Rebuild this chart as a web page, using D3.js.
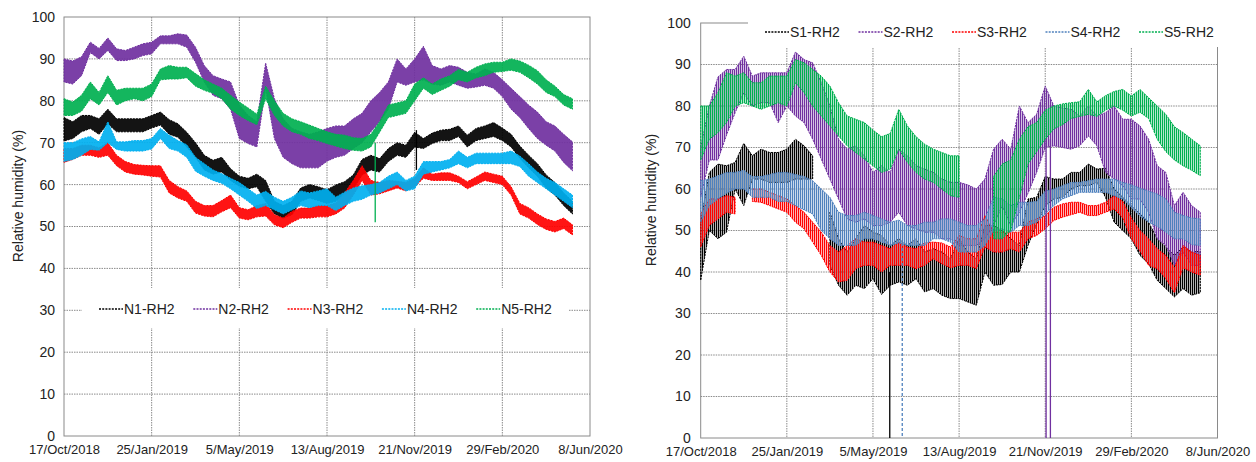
<!DOCTYPE html>
<html>
<head>
<meta charset="utf-8">
<script src="https://cdn.jsdelivr.net/npm/d3@7"></script>
<style>
    body { margin: 0; background: #fff; }
    svg text { font-family: "Liberation Sans", Arial, sans-serif; fill: #222; }
</style>
</head>
<body>
<svg id="chart" width="1256" height="462"></svg>
<script>
// ============================================
// Relative humidity RH2, north (N) and south (S) sensors
// ============================================

// x axis: tick dates (every 100 days) and sample days counted from the first tick
const xTickDates = ['2018-10-17', '2019-01-25', '2019-05-05', '2019-08-13', '2019-11-21', '2020-02-29', '2020-06-08'];
const yTicks = [0, 10, 20, 30, 40, 50, 60, 70, 80, 90, 100];
const sampleDays = [0, 10, 20, 30, 40, 50, 60, 70, 80, 90, 100, 110, 120, 130, 140, 150, 160, 170, 180, 190,
    200, 210, 220, 230, 240, 250, 260, 270, 280, 290, 300, 310, 320, 330, 340, 350, 360, 370, 380, 390,
    400, 410, 420, 430, 440, 450, 460, 470, 480, 490, 500, 510, 520, 530, 540, 550, 560, 570, 580];

// Left chart: daily low / high envelope of each series
const northNames = ['N1-RH2', 'N2-RH2', 'N3-RH2', 'N4-RH2', 'N5-RH2'];
const n1Lo = [70.4, 71, 72.6, 73.4, 72, 74.5, 72.6, 72.6, 72.6, 72.6, 73.5, 74.2, 72, 71.3, 69, 66.5, 63.5, 62.5, 63, 61, 59.6, 59, 59.5, 56, 53, 52, 52.8, 56, 56.8, 56.2, 55.5, 56, 57.5, 59, 62.3, 63.5, 63, 65.5, 67, 66.5, 69, 68.6, 69.8, 70.5, 70.5, 71.5, 69, 70.5, 71, 71.5, 70.5, 69, 66.3, 64, 62, 59.2, 57.5, 55, 53];
const n1Hi = [76, 75, 76.5, 76.5, 75.7, 78, 75.7, 75.7, 75.7, 75.7, 76.5, 77.3, 75.5, 74.5, 72.5, 70, 67, 65.8, 66.5, 63.8, 62, 61.5, 62.5, 61, 56, 55, 56, 59.2, 60, 59.5, 58.8, 59.9, 60.7, 62.3, 66, 67, 66.2, 68.6, 70, 69.4, 72.5, 71, 72.3, 73, 73.2, 74, 71.8, 73.4, 74, 74.8, 73.5, 72, 69.2, 67, 65, 62.3, 60.5, 58, 56];
const n2Lo = [84.5, 84, 86, 91.5, 90, 92, 89.6, 89.6, 90, 90.8, 91.2, 93.6, 93.6, 93.6, 92.8, 89.2, 84.5, 81.3, 80.5, 78, 71, 69.8, 69, 83, 71, 66.5, 65, 64, 64, 64, 65.6, 66.5, 67, 68.6, 70, 72.6, 75, 78, 84.5, 83.7, 84.5, 85, 84, 83.7, 84.5, 83.7, 83, 83.3, 83.7, 83, 81, 78, 76, 73.4, 71, 69.4, 68, 65.3, 63.3];
const n2Hi = [90, 89.5, 90.5, 94, 92.5, 95, 92.4, 92, 92.8, 93.6, 94, 95.5, 95.5, 96, 95.7, 92.8, 88.4, 86, 85.2, 84.5, 79, 76.5, 75, 89, 80.5, 75.7, 73.4, 72.6, 72, 72.6, 73.4, 74, 74, 75.7, 77, 80, 82, 84.5, 90, 87.6, 90, 93, 88.4, 87.6, 88.4, 88, 86.8, 86.4, 87.6, 86.8, 85, 83, 81, 79, 77.3, 75, 74, 72, 70.2];
const n3Lo = [65.3, 66, 67, 67, 66.5, 67, 64.5, 63, 62.5, 62.3, 62, 61.8, 58, 56.8, 56, 53.2, 52.5, 52.3, 53.5, 54.5, 52, 51.6, 52.3, 52.5, 50.4, 49.7, 51, 52, 52, 52.3, 52.3, 53, 54.4, 57.5, 61, 57.5, 57.8, 58.5, 59.2, 58.5, 59.5, 61.5, 61, 61, 61, 60.5, 59, 60, 61, 60.5, 60, 57.5, 53, 52, 50.5, 49.3, 48.7, 49.5, 48];
const n3Hi = [68.6, 68.6, 69.4, 69.4, 68.8, 70, 67, 65.5, 64.8, 64.6, 64.5, 64.5, 61, 59.5, 58.5, 56, 55, 55, 56.2, 57.5, 54.5, 54, 55, 55.5, 52.8, 52, 53.6, 54.4, 54.4, 55, 55, 55.6, 58, 61, 64.5, 61, 60.5, 61, 60.8, 60.5, 61.5, 64, 62.5, 62.8, 62.8, 62, 60.7, 61.8, 63, 62.5, 62, 59.5, 55.5, 54.5, 53, 51.8, 51.2, 52, 50.4];
const n4Lo = [65.5, 66, 67, 68.4, 68.2, 70, 68.4, 68, 68, 68, 68.5, 71, 68.6, 68, 66.5, 63.2, 62, 61, 60.3, 59, 57.5, 56, 54.3, 55, 54, 53, 54, 55, 54.5, 55, 55, 53.8, 55, 56, 56.5, 57.5, 58, 59, 60, 58.5, 59, 62.5, 63, 63.5, 64, 65, 64, 65, 65, 65, 65, 65, 64.3, 62, 60.5, 59, 57.5, 56, 54.5];
const n4Hi = [70, 70, 70.9, 71.5, 70.2, 75, 70.2, 70.2, 70.5, 70.5, 71, 73.4, 71.8, 70.5, 69.5, 66.5, 65, 63.5, 62.6, 61.5, 60.5, 59, 57.5, 58.4, 57, 56, 57, 58.5, 58, 58.5, 59, 57, 58.2, 59.2, 59.7, 60, 60.5, 62, 63, 61, 62, 65.5, 65.5, 65.5, 66, 68, 66.5, 67.5, 67.5, 67.5, 67.5, 68, 66.8, 65, 63, 61.5, 60.5, 59, 57.5];
const n5Lo = [76.5, 76.5, 77.5, 80.5, 79, 82, 79, 80, 80.5, 80, 81, 85, 85.2, 85.2, 85.5, 83.5, 82.5, 81.8, 80.5, 78, 76.5, 75.3, 74.3, 80.5, 76.5, 74, 72.6, 72, 71, 70.5, 69.8, 69.2, 68.6, 68.2, 68, 69, 72.5, 76, 76.5, 77, 80, 83, 81.5, 82.5, 83.5, 85, 84.5, 85.5, 86, 86.8, 87, 87.3, 86.8, 85.5, 84, 82, 81, 79, 78];
const n5Hi = [80.5, 79.7, 81.3, 84.5, 82, 86, 82.5, 83, 83, 83, 84, 87.6, 88.4, 88, 88, 86.5, 85, 84, 83, 81.3, 79.7, 78.3, 76.8, 83.5, 80, 77, 75.7, 75, 74.2, 73.4, 72.6, 72, 71.8, 71.2, 71, 72, 75, 79, 79.5, 80, 84, 85.5, 84, 85.2, 86, 87.5, 86.8, 88, 88.8, 89.2, 89.2, 90, 89.5, 88.5, 87.2, 85, 83.5, 81.5, 80.5];
// single readings that fall away from the series: [series, day, from, to]
const northDrops = [['N5-RH2', 355, 70, 51], ['N1-RH2', 402, 73, 63.5]];

// Right chart
const southNames = ['S1-RH2', 'S2-RH2', 'S3-RH2', 'S4-RH2', 'S5-RH2'];
const s1Lo = [38, 50, 48, 49.6, 60, 56, 62.4, 62.4, 61.6, 61.6, 61.6, 62.4, 62.4, 62.4, null, 41.6, 36.8, 34.4, 36.8, 36, 38.4, 34.6, 36.8, 37.6, 36.8, 38.4, 35.2, 36, 34.4, 33.6, 33.6, 32.8, 32, 40, 36.8, 37, 40, 40, 46.4, 51.5, 56, 57.6, 58, 60, 60.8, 60.8, 61.6, 58, 52, 50, 48, 44, 42, 38, 36, 34, 36, 34.4, 35];
const s1Hi = [52, 64, 66, 65.6, 66.4, 71, 68, 69.6, 68.8, 68.8, 69.6, 72, 70.4, 68, null, 54.4, 48, 44.8, 48, 51.2, 49.6, 48.8, 46.4, 48, 46.4, 48, 44.8, 45.6, 44.8, 43.2, 48, 44.8, 43.2, 51.2, 51.2, 50, 48, 46.4, 57.6, 58, 63, 62.4, 62.4, 64, 64, 66, 64.8, 65, 60, 58, 56, 54, 52, 48, 46, 44, 46, 44.8, 45];
const s2Lo = [58, 67, 67, 73, 78.4, 83.2, 80, 80.8, 80.8, 76, 80, 77.6, 76, 72, 67.2, 62.4, 57.6, 52.8, 52, 52.8, 51.2, 51.2, 52, 54.4, 51.2, 50.4, 49.6, 49.6, 48, 48, 46.4, 46.4, 46.4, 48, 51.2, 56, 51.2, 54.4, 59, 64, 70, 70.4, 70, 69.6, 70.4, 72.8, 70.4, 64, 62.4, 60.8, 57.6, 57.6, 54.4, 48, 46.4, 41.6, 44.8, 41.6, 41.6];
const s2Hi = [70, 80, 87, 88.8, 88.8, 92, 87.2, 88, 88, 88, 88, 93, 91.2, 90.4, 85.6, 80, 72, 69.6, 70.4, 68, 64, 65.6, 64, 69.6, 68, 65.6, 64.8, 64, 62.4, 61.6, 61.6, 61, 60, 62.4, 69.6, 72, 69.6, 80, 76, 78, 84.8, 80, 79.5, 79.2, 77.6, 80, 77.6, 78.4, 80, 76.8, 76.8, 75.2, 72, 65.6, 64, 56, 59.2, 56, 54.4];
const s3Lo = [46, 51.2, 52.8, 54.4, 54, null, 57, 56.8, 56, 55.2, 54.4, 52, 50.4, 47.2, 44, 40, 37.6, 38, 40.8, 41.6, 41.6, 40, 41.6, 41.6, 41.6, 40.8, 41.6, 43.2, 42, 41, 41.6, 41.6, 40.8, 46, 44.8, 44.8, 45.6, 44.8, 48, 48.8, 50.4, 52.4, 53.2, 53.8, 54.4, 53.6, 53.6, 54.4, 55.2, 53, 48, 45, 41.6, 40.8, 38.4, 35, 41, 40, 39.2];
const s3Hi = [54, 57.6, 57.6, 58.4, 58, null, 60, 60, 59.2, 58.4, 57.6, 56, 54.4, 52, 49.6, 46.4, 44.8, 46.4, 48, 47.2, 47.2, 46.4, 45.6, 47.2, 46, 45.6, 47, 47.2, 47, 46, 48.8, 48, 48, 53.6, 49.6, 49.6, 49.6, 49.6, 52, 52.8, 53.6, 55.6, 56.4, 56.8, 56.8, 56, 56, 56.8, 58.4, 57, 53, 50, 48, 45.6, 44, 41, 46.4, 44.8, 44];
const s4Lo = [52, 56, 57.6, 59, 60, 60, 58, 58, 58, 57, 57, 56, 55, 54, 50, 48, 46.4, 46.4, 46.4, 48, 48, 47.2, 46.4, 47, 46.4, 46.4, 46.4, 48, 48, 47.2, 44.8, 44.8, 44.8, 46.4, 50, 50.4, 49.6, 51.2, 51.2, 52, 54, 56, 57.6, 58.4, 59.2, 59.2, 59.2, 59.2, 58.4, 57.6, 55.5, 53.5, 52, 51, 49.6, 48, 48, 46.6, 46.4];
const s4Hi = [62, 62.4, 63.2, 64, 64, 64.5, 63, 63, 63.5, 64, 64, 63.5, 63, 62, 60, 58, 54.4, 53.6, 53.6, 54.4, 53.6, 52.8, 52, 52.5, 51.2, 51.2, 52, 52, 52.8, 52.8, 52, 51.2, 51.2, 52.8, 58, 57.6, 56, 56.8, 56.8, 57, 59.5, 60, 60.8, 61.6, 61.6, 62, 62.4, 62.4, 62.4, 61.6, 61, 60.2, 59.5, 58.8, 57.6, 54.4, 53.6, 53, 52.8];
const s5Lo = [67, 72, 73.6, 76, 80, 80.8, 80, 79.2, 80, 80.8, 80, 85.6, 83.2, 80, 77.6, 75.2, 72.8, 70.4, 68.8, 67.2, 65.6, 64, 64.8, 69.6, 66.4, 64, 62.4, 61.6, 60, 58.4, 58, null, null, null, 48, 48, 50, 58, 66, 69, 72, 74.5, 75.5, 77, 77.5, 78, 77.5, 79, 80, 79, 77.6, 78.5, 77, 72, 69, 67, 65.6, 64.5, 63.2];
const s5Hi = [80, 80, 83.2, 88, 87.2, 88, 85.6, 85.6, 87.2, 87.2, 87.2, 91.2, 90.4, 88.8, 87.2, 84.8, 80.8, 77.6, 76.8, 76, 74.2, 72.6, 73.4, 79.2, 75.2, 72.6, 70.8, 69.6, 68.8, 68, 68, null, null, null, 63, 66, 67, 72, 75, 76, 79, 80, 80.5, 80.8, 81, 84, 81, 82.5, 83.5, 84, 82.4, 84, 82, 80, 78, 75, 73.6, 72, 70.4];
const southDrops = [['S1-RH2', 219.5, 40, 0], ['S4-RH2', 234, 47, 0], ['S2-RH2', 401, 72, 0], ['S2-RH2', 406, 72, 0]];

const parseDate = d3.utcParse('%Y-%m-%d');
const fmtDate = d3.utcFormat('%-d/%b/%Y');
const startDate = parseDate(xTickDates[0]);

const svg = d3.select('#chart');
const defs = svg.append('defs');

// vertical stripe fill, gives the noisy hourly look of the south sensors
function stripe(id, color) {
    const pat = defs.append('pattern')
        .attr('id', id)
        .attr('patternUnits', 'userSpaceOnUse')
        .attr('width', 2).attr('height', 6);
    pat.append('rect')
        .attr('width', 1.3).attr('height', 6)
        .style('fill', color);
    return `url(#${id})`;
}

function drawPanel(p) {
    const x = d3.scaleUtc()
        .domain([startDate, parseDate(xTickDates[xTickDates.length - 1])])
        .range([p.left, p.right]);
    const y = d3.scaleLinear().domain([0, 100]).range([p.bottom, p.top]);
    const at = day => x(d3.utcHour.offset(startDate, Math.round(day * 24)));

    const g = svg.append('g');

    // Gridlines
    g.selectAll('.hgrid')
        .data(yTicks.slice(1, -1))
        .enter()
        .append('line')
        .attr('x1', p.left).attr('x2', p.right)
        .attr('y1', d => y(d)).attr('y2', d => y(d))
        .style('stroke', '#8a8a8a')
        .style('stroke-dasharray', '1.5,1');
    g.selectAll('.vgrid')
        .data(xTickDates.slice(1, -1).map(parseDate))
        .enter()
        .append('line')
        .attr('x1', d => x(d)).attr('x2', d => x(d))
        .attr('y1', p.top).attr('y2', p.bottom)
        .style('stroke', '#8a8a8a')
        .style('stroke-dasharray', '1.5,1');

    // Plot border
    g.append('rect')
        .attr('x', p.left).attr('y', p.top)
        .attr('width', p.right - p.left).attr('height', p.bottom - p.top)
        .style('fill', 'none')
        .style('stroke', '#8a8a8a');

    // Series bands (daily swing)
    const area = d3.area()
        .defined(d => d.lo != null)
        .x(d => at(d.day))
        .y0(d => y(d.lo))
        .y1(d => y(d.hi));

    p.series.forEach(s => {
        const pts = sampleDays.map((day, i) => ({ day, lo: s.lo[i], hi: s.hi[i] }));
        g.append('path')
            .attr('d', area(pts))
            .style('fill', s.fill || s.color)
            .style('fill-opacity', p.fillOpacity)
            .style('stroke', s.color)
            .style('stroke-width', 1)
            .style('stroke-dasharray', '2,1');
    });

    // Drop-outs
    const colorOf = Object.fromEntries(p.series.map(s => [s.name, s]));
    g.selectAll('.drop')
        .data(p.drops)
        .enter()
        .append('line')
        .attr('x1', d => at(d[1])).attr('x2', d => at(d[1]))
        .attr('y1', d => y(d[2])).attr('y2', d => y(d[3]))
        .style('stroke', d => colorOf[d[0]].color)
        .style('stroke-width', 1.3)
        .style('stroke-dasharray', d => colorOf[d[0]].dropDash || null);

    // Legend
    const lg = p.legend;
    g.append('rect')
        .attr('x', lg.box[0]).attr('y', lg.box[1])
        .attr('width', lg.box[2]).attr('height', lg.box[3])
        .style('fill', '#fff');
    const item = g.selectAll('.leg')
        .data(p.series)
        .enter()
        .append('g')
        .attr('transform', (d, i) => `translate(${lg.x + i * lg.step},${lg.y})`);
    item.append('line')
        .attr('x1', 0).attr('x2', 24)
        .style('stroke', d => d.color)
        .style('stroke-width', 1.4)
        .style('stroke-dasharray', '2,1.2');
    item.append('text')
        .attr('x', 25).attr('dy', '0.35em')
        .text(d => d.name)
        .style('font-size', '14px');

    // Axes
    const yAxis = g.append('g')
        .attr('transform', `translate(${p.left},0)`)
        .call(d3.axisLeft(y).tickValues(yTicks).tickSize(0).tickPadding(p.yPad));
    yAxis.select('.domain').remove();
    yAxis.selectAll('text').style('font-size', '14px').style('font-family', null);

    const xAxis = g.append('g')
        .attr('transform', `translate(0,${p.bottom})`)
        .call(d3.axisBottom(x)
            .tickValues(xTickDates.map(parseDate))
            .tickFormat(fmtDate)
            .tickSize(0)
            .tickPadding(9));
    xAxis.select('.domain').remove();
    xAxis.selectAll('text').style('font-size', '13px').style('font-family', null);

    g.append('text')
        .attr('transform', `translate(${p.titleX},${p.titleY}) rotate(-90)`)
        .attr('text-anchor', 'middle')
        .attr('dy', '0.35em')
        .text('Relative humidity (%)')
        .style('font-size', '14px');
}

const northColors = ['#000000', '#7030a0', '#ff0000', '#00b0f0', '#00b050'];
const northLo = [n1Lo, n2Lo, n3Lo, n4Lo, n5Lo];
const northHi = [n1Hi, n2Hi, n3Hi, n4Hi, n5Hi];
drawPanel({
    left: 64, right: 590, top: 17, bottom: 436,
    yPad: 9, titleX: 18, titleY: 196, fillOpacity: 0.92,
    series: northNames.map((name, i) => ({ name, color: northColors[i], lo: northLo[i], hi: northHi[i] })),
    drops: northDrops,
    legend: { box: [82, 288, 486, 40], x: 99, step: 94.3, y: 309 }
});

const southColors = ['#000000', '#7030a0', '#ff0000', '#4f81bd', '#00b050'];
const southLo = [s1Lo, s2Lo, s3Lo, s4Lo, s5Lo];
const southHi = [s1Hi, s2Hi, s3Hi, s4Hi, s5Hi];
drawPanel({
    left: 700.7, right: 1217.5, top: 23, bottom: 438,
    yPad: 10, titleX: 651, titleY: 200, fillOpacity: 1,
    series: southNames.map((name, i) => ({
        name, color: southColors[i], lo: southLo[i], hi: southHi[i],
        fill: stripe('stripe-' + i, southColors[i]),
        dropDash: name === 'S4-RH2' ? '3,2' : null
    })),
    drops: southDrops,
    legend: { box: [748, 8, 480, 39], x: 765, step: 93.5, y: 32 }
});
</script>
</body>
</html>
